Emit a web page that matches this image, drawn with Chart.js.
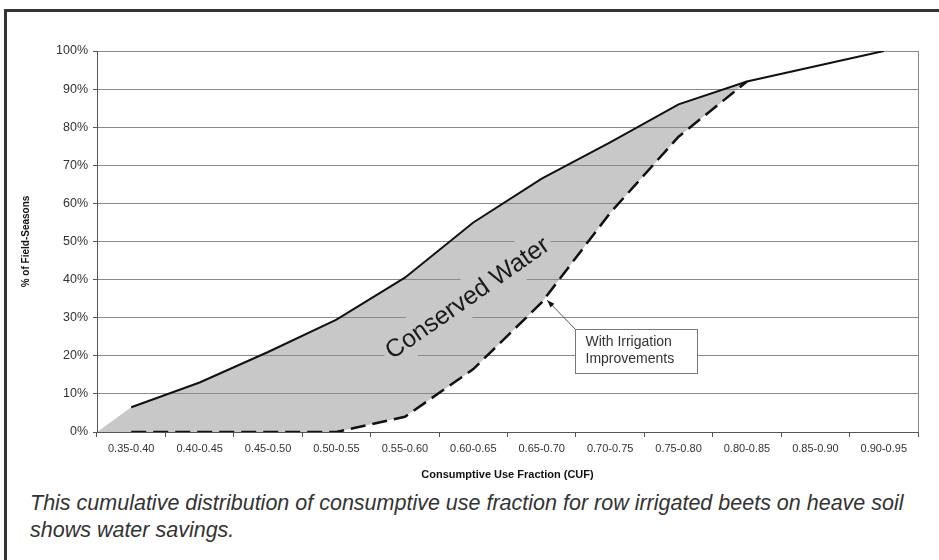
<!DOCTYPE html>
<html>
<head>
<meta charset="utf-8">
<script src="https://cdn.jsdelivr.net/npm/chart.js@4.4.0/dist/chart.umd.min.js"></script>
<style>
    html, body { margin: 0; padding: 0; background: #fff; }
    body { width: 939px; height: 560px; position: relative; overflow: hidden; font-family: "Liberation Sans", Arial, sans-serif; }
    .frame-top { position: absolute; left: 4px; top: 9px; width: 935px; height: 3px; background: #333; }
    .frame-left { position: absolute; left: 4px; top: 9px; width: 3px; height: 551px; background: #333; }
    #wrap { position: absolute; left: 0; top: 0; width: 939px; height: 482px; }
    .caption { position: absolute; left: 30px; top: 490px; width: 888px; font-style: italic; font-size: 21.5px; line-height: 27px; color: #333; }
</style>
</head>
<body>
<div class="frame-top"></div>
<div class="frame-left"></div>
<div id="wrap"><canvas id="cufChart"></canvas></div>
<div class="caption">This cumulative distribution of consumptive use fraction for row irrigated beets on heave soil shows water savings.</div>
<script>
(() => {
    'use strict';

    // Chart data
    const cufBins = ['0.35-0.40', '0.40-0.45', '0.45-0.50', '0.50-0.55', '0.55-0.60', '0.60-0.65',
        '0.65-0.70', '0.70-0.75', '0.75-0.80', '0.80-0.85', '0.85-0.90', '0.90-0.95'];
    const currentPct = [6.5, 13, 21, 29.5, 40.5, 55, 66.5, 76, 86, 92, 96, 100];
    const improvedPct = [0, 0, 0, 0, 4, 16.5, 34, 57.5, 77.5, 92, null, null];
    const yTicks = [0, 10, 20, 30, 40, 50, 60, 70, 80, 90, 100];

    const areaGray = '#c8c8c8';
    const font = '"Liberation Sans", Arial, sans-serif';

    // bins sit between integer ticks on a linear axis, so centres are i + 0.5
    const toPoints = arr => arr.map((v, i) => ({ x: i + 0.5, y: v }));
    const currentPts = toPoints(currentPct);
    const improvedPts = toPoints(improvedPct);

    // shaded band: starts at the left edge at 0 and closes where both curves meet
    const lastShared = improvedPct.findLastIndex(v => v !== null);
    const bandTop = [{ x: 0, y: 0 }].concat(currentPts.slice(0, lastShared + 1));
    const bandBottom = [{ x: 0, y: 0 }].concat(improvedPts.slice(0, lastShared + 1));

    // annotation spots, in data units
    const bandLabel = { text: 'Conserved Water', x: 5.41, y: 35.2, angle: -35 };
    const noteBox = { lines: ['With Irrigation', 'Improvements'], x0: 6.99, x1: 8.77, y0: 27, y1: 15.6 };
    const noteTip = { x: 6.58, y: 34.6 };

    const notesPlugin = {
        id: 'notes',
        beforeDatasetsDraw(chart) {
            const { ctx, scales: { x, y } } = chart;
            const cx = x.getPixelForValue(bandLabel.x);
            const cy = y.getPixelForValue(bandLabel.y);
            ctx.save();
            ctx.translate(cx, cy);
            ctx.rotate(bandLabel.angle * Math.PI / 180);
            ctx.font = '25px ' + font;
            const w = ctx.measureText(bandLabel.text).width;
            ctx.fillStyle = areaGray;
            ctx.fillRect(-w / 2 - 4, -19, w + 8, 38);
            ctx.fillStyle = '#1a1a1a';
            ctx.textAlign = 'center';
            ctx.textBaseline = 'middle';
            ctx.fillText(bandLabel.text, 0, 1);
            ctx.restore();
        },
        afterDatasetsDraw(chart) {
            const { ctx, chartArea, scales: { x, y } } = chart;
            const bx0 = Math.round(x.getPixelForValue(noteBox.x0)) + 0.5;
            const bx1 = Math.round(x.getPixelForValue(noteBox.x1)) + 0.5;
            const by0 = Math.round(y.getPixelForValue(noteBox.y0)) + 0.5;
            const by1 = Math.round(y.getPixelForValue(noteBox.y1)) + 0.5;
            const tx = x.getPixelForValue(noteTip.x);
            const ty = y.getPixelForValue(noteTip.y);
            ctx.save();

            // arrow from box corner to the dashed curve
            ctx.strokeStyle = '#555';
            ctx.lineWidth = 1;
            ctx.beginPath();
            ctx.moveTo(bx0, by0);
            ctx.lineTo(tx, ty);
            ctx.stroke();
            const ang = Math.atan2(ty - by0, tx - bx0);
            ctx.fillStyle = '#111';
            ctx.beginPath();
            ctx.moveTo(tx, ty);
            ctx.lineTo(tx - 8 * Math.cos(ang - 0.35), ty - 8 * Math.sin(ang - 0.35));
            ctx.lineTo(tx - 8 * Math.cos(ang + 0.35), ty - 8 * Math.sin(ang + 0.35));
            ctx.closePath();
            ctx.fill();

            ctx.fillStyle = '#fff';
            ctx.fillRect(bx0, by0, bx1 - bx0, by1 - by0);
            ctx.strokeStyle = '#777';
            ctx.strokeRect(bx0, by0, bx1 - bx0, by1 - by0);
            ctx.fillStyle = '#333';
            ctx.font = '14px ' + font;
            ctx.textBaseline = 'middle';
            noteBox.lines.forEach((line, i) => {
                ctx.fillText(line, bx0 + 10, by0 + 13 + i * 17);
            });

            // right side of the plot frame
            ctx.strokeStyle = '#8a8a8a';
            ctx.beginPath();
            ctx.moveTo(Math.round(chartArea.right) + 0.5, chartArea.top);
            ctx.lineTo(Math.round(chartArea.right) + 0.5, chartArea.bottom);
            ctx.stroke();
            ctx.restore();
        }
    };

    new Chart(document.getElementById('cufChart'), {
        type: 'line',
        data: {
            datasets: [{
                label: 'Current',
                data: currentPts,
                borderColor: '#111',
                borderWidth: 2,
                pointRadius: 0,
                fill: false
            }, {
                label: 'With Irrigation Improvements',
                data: improvedPts,
                borderColor: '#111',
                borderWidth: 2.5,
                borderDash: [15, 7],
                pointRadius: 0,
                fill: false
            }, {
                label: 'Conserved Water',
                data: bandTop,
                borderWidth: 0,
                pointRadius: 0,
                backgroundColor: areaGray,
                fill: '+1'
            }, {
                label: 'band bottom',
                data: bandBottom,
                borderWidth: 0,
                pointRadius: 0,
                fill: false
            }]
        },
        options: {
            responsive: true,
            maintainAspectRatio: false,
            animation: false,
            devicePixelRatio: 1,
            layout: { padding: { left: 20, top: 51, right: 21, bottom: 0 } },
            plugins: {
                legend: { display: false },
                tooltip: { enabled: false },
                filler: { drawTime: 'beforeDraw' }
            },
            scales: {
                x: {
                    type: 'linear',
                    min: 0,
                    max: cufBins.length,
                    afterBuildTicks: s => { s.ticks = cufBins.map((_, i) => ({ value: i + 0.5 })); },
                    afterFit: s => { s.height = 50; },
                    ticks: {
                        callback: (v, i) => cufBins[i],
                        autoSkip: false,
                        maxRotation: 0,
                        color: '#333',
                        font: { family: font, size: 11 },
                        padding: 5
                    },
                    grid: { offset: true, drawOnChartArea: false, tickLength: 5, tickColor: '#555' },
                    border: { color: '#555' },
                    title: {
                        display: true,
                        text: 'Consumptive Use Fraction (CUF)',
                        color: '#111',
                        font: { family: font, size: 11, weight: 'bold' },
                        padding: { top: 4, bottom: 0 }
                    }
                },
                y: {
                    min: 0,
                    max: 100,
                    afterBuildTicks: s => { s.ticks = yTicks.map(v => ({ value: v })); },
                    afterFit: s => { s.width = 77; },
                    ticks: {
                        callback: v => v + '%',
                        color: '#333',
                        font: { family: font, size: 12.5 },
                        padding: 5
                    },
                    grid: { color: '#8a8a8a', lineWidth: 1, tickLength: 4, tickColor: '#555' },
                    border: { color: '#555' },
                    title: {
                        display: true,
                        text: '% of Field-Seasons',
                        color: '#111',
                        font: { family: font, size: 10, weight: 'bold' },
                        padding: 0
                    }
                }
            }
        },
        plugins: [notesPlugin]
    });
})();
</script>
</body>
</html>
